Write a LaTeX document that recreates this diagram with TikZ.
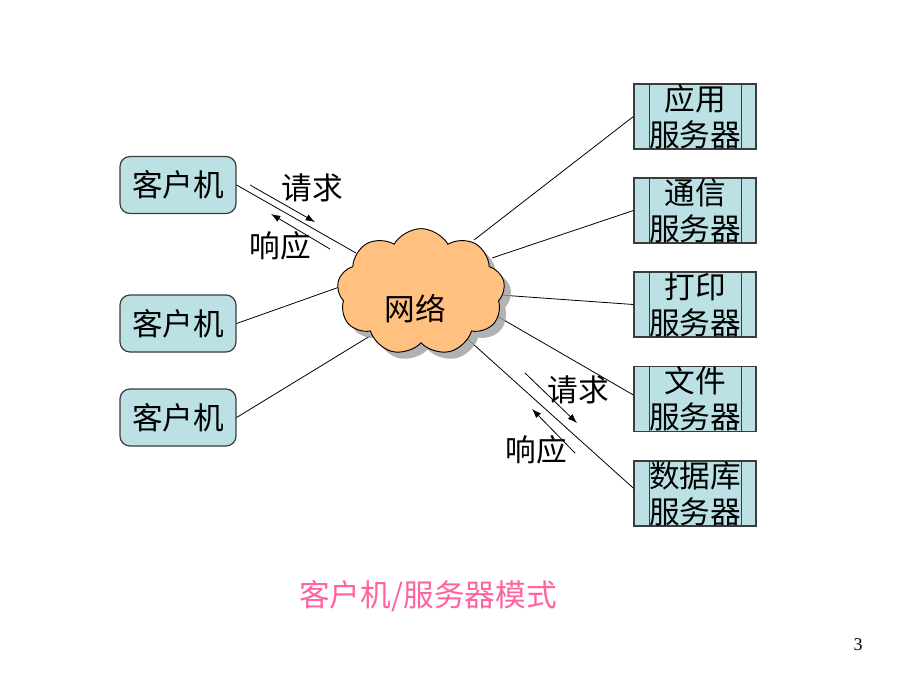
\documentclass[tikz,border=0pt]{standalone}
\usepackage{fontspec}
\setmainfont{Liberation Serif}
\newfontfamily\cjk{Noto Sans CJK SC}
\usetikzlibrary{shapes.symbols,shadows,arrows.meta}
\definecolor{boxfill}{RGB}{187,225,228}
\definecolor{cloudfill}{RGB}{255,192,128}
\definecolor{capink}{RGB}{255,100,160}
\definecolor{edgegray}{RGB}{60,60,60}
\tikzset{
  client/.style={draw=edgegray, line width=0.9pt, fill=boxfill, rounded corners=7.5pt,
    minimum width=87pt, minimum height=42.75pt, inner sep=0pt, font=\cjk\fontsize{23}{26}\selectfont},
  server/.style={draw=edgegray, line width=0.9pt, fill=boxfill,
    minimum width=91.5pt, minimum height=48.75pt, inner sep=0pt, align=center,
    font=\cjk\fontsize{23}{27}\selectfont,
    path picture={
      \draw[edgegray, line width=0.7pt] ([xshift=11.25pt]path picture bounding box.north west) -- ([xshift=11.25pt]path picture bounding box.south west);
      \draw[edgegray, line width=0.7pt] ([xshift=-11.25pt]path picture bounding box.north east) -- ([xshift=-11.25pt]path picture bounding box.south east);
    }},
  link/.style={line width=0.6pt, black},
  flow/.style={line width=0.6pt, black, -{Latex[length=7pt,width=5pt]}},
  lbl/.style={font=\cjk\fontsize{23}{26}\selectfont, inner sep=0pt},
}
\begin{document}
\begin{tikzpicture}[x=0.75pt,y=-0.75pt]
\useasboundingbox (0,0) rectangle (920,690);
\fill[white] (0,0) rectangle (920,690);

% clients
\node[client] (cl1) at (178,185) {客户机};
\node[client] (cl2) at (178,323.5) {客户机};
\node[client] (cl3) at (178,417.5) {客户机};

% servers
\node[server] (s1) at (695,116.5) {应用\\服务器};
\node[server] (s2) at (695,210.5) {通信\\服务器};
\node[server] (s3) at (695,304.5) {打印\\服务器};
\node[server] (s4) at (695,399) {文件\\服务器};
\node[server] (s5) at (695,493.5) {数据库\\服务器};

% cloud attachment points
\coordinate (k1) at (356,253);
\coordinate (k2) at (345,285);
\coordinate (k3) at (370,336);
\coordinate (k4) at (474,240);
\coordinate (k5) at (492,258);
\coordinate (k6) at (500,295);
\coordinate (k7) at (490,312);
\coordinate (k8) at (462,334);

\draw[link] (cl1.east) -- (k1);
\draw[link] (cl2.east) -- (k2);
\draw[link] (cl3.east) -- (k3);
\draw[link] (k4) -- (s1.west);
\draw[link] (k5) -- (s2.west);
\draw[link] (k6) -- (s3.west);
\draw[link] (k7) -- ([yshift=3pt]s4.west);
\draw[link] (k8) -- ([yshift=4pt]s5.west);

% cloud
\node[cloud, cloud puffs=9, cloud puff arc=120, aspect=1.35, draw=black, line width=0.7pt,
  fill=cloudfill, minimum width=126pt, minimum height=95pt, inner sep=0pt,
  drop shadow={shadow xshift=5pt, shadow yshift=-5pt, fill=gray!75, opacity=0.8}] (net) at (421,292) {};
\node[lbl] (netl) at (415,309) {网络};

% request / response arrows (client side)
\coordinate (a1s) at (250,185);
\coordinate (a1e) at (315,222);
\coordinate (a2s) at (330,249);
\coordinate (a2e) at (271,214);
\draw[flow] (a1s) -- (a1e);
\draw[flow] (a2s) -- (a2e);
\node[lbl] (req1) at (312,188) {请求};
\node[lbl] (res1) at (280,246) {响应};

% request / response arrows (server side)
\coordinate (b1s) at (525,373);
\coordinate (b1e) at (577,423);
\coordinate (b2s) at (575,453);
\coordinate (b2e) at (532,409);
\draw[flow] (b1s) -- (b1e);
\draw[flow] (b2s) -- (b2e);
\node[lbl] (req2) at (578,390) {请求};
\node[lbl] (res2) at (536,450) {响应};

% caption
\node[lbl, text=capink] (cap) at (428,596) {客户机/服务器模式};
\node[font=\fontsize{13.5}{16}\selectfont, inner sep=0pt] (pg) at (858,645) {3};
\end{tikzpicture}
\end{document}
